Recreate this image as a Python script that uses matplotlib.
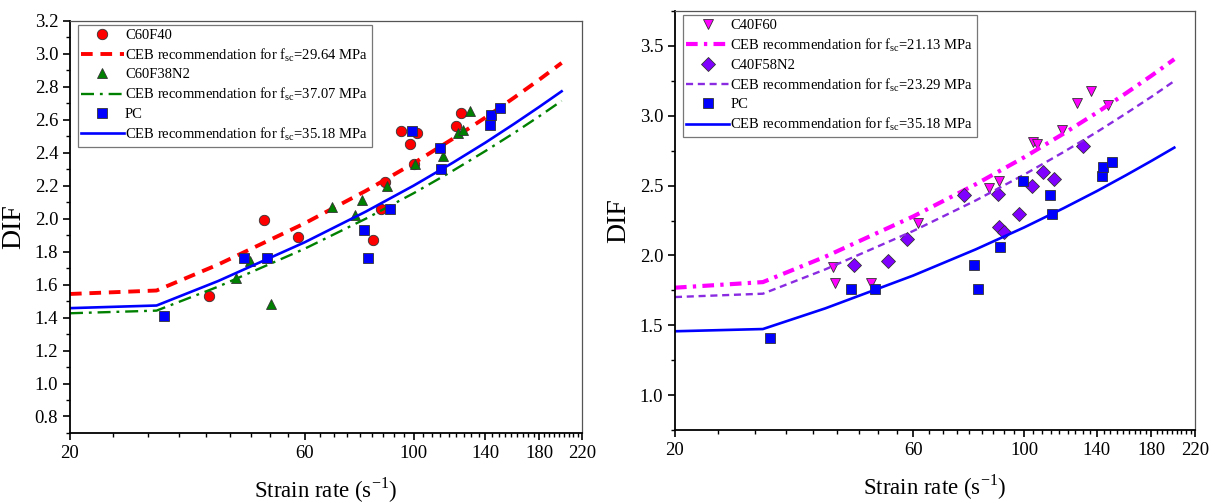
import numpy as np
import matplotlib
matplotlib.use("Agg")
import matplotlib.pyplot as plt
from matplotlib.ticker import FixedLocator, FixedFormatter, MultipleLocator, NullFormatter

plt.rcParams['font.family'] = ['Liberation Serif', 'DejaVu Serif']
plt.rcParams['mathtext.fontset'] = 'custom'
plt.rcParams['mathtext.rm'] = 'Liberation Serif'
plt.rcParams['axes.unicode_minus'] = False

# strain rate points where the CEB curves were read
ceb_rate = [20, 30, 40, 60, 80, 100, 120, 140, 160, 180, 200]

# left panel
c60f40_x = [38.4, 49.6, 58.3, 82.8, 85.8, 87.4, 94.4, 98.5, 100.0, 101.7, 122.2, 124.6]
c60f40_y = [1.53, 1.99, 1.89, 1.87, 2.06, 2.22, 2.53, 2.45, 2.33, 2.52, 2.56, 2.64]
c60f38n2_x = [43.6, 46.4, 51.3, 68.3, 76.1, 78.7, 88.1, 100.8, 114.7, 123.2, 126.2, 130.3]
c60f38n2_y = [1.64, 1.74, 1.48, 2.07, 2.02, 2.11, 2.20, 2.33, 2.38, 2.52, 2.54, 2.65]
ceb_2964 = [1.543, 1.564, 1.721, 1.971, 2.169, 2.336, 2.483, 2.613, 2.733, 2.842, 2.944]
ceb_3707 = [1.426, 1.442, 1.587, 1.817, 2.000, 2.154, 2.289, 2.410, 2.519, 2.620, 2.714]

# PC, shared by both panels
pc_x = [31.0, 45.1, 50.3, 79.4, 80.9, 89.4, 99.4, 112.9, 113.9, 143.0, 143.8, 150.1]
pc_y = [1.41, 1.76, 1.76, 1.93, 1.76, 2.06, 2.53, 2.43, 2.30, 2.57, 2.63, 2.67]
ceb_3518 = [1.457, 1.473, 1.621, 1.856, 2.043, 2.200, 2.338, 2.461, 2.574, 2.677, 2.772]

# right panel
c40f60_x = [41.5, 41.8, 49.5, 61.4, 85.1, 89.3, 104.2, 106.1, 119.0, 127.9, 136.3, 147.1]
c40f60_y = [1.92, 1.80, 1.80, 2.23, 2.48, 2.53, 2.81, 2.80, 2.90, 3.09, 3.18, 3.08]
c40f58n2_x = [45.7, 53.3, 58.3, 75.7, 88.8, 89.3, 91.3, 97.8, 103.8, 109.2, 115.1, 131.4]
c40f58n2_y = [1.93, 1.96, 2.12, 2.43, 2.44, 2.20, 2.17, 2.30, 2.50, 2.60, 2.55, 2.78]
ceb_2113 = [1.769, 1.809, 1.991, 2.279, 2.509, 2.702, 2.872, 3.023, 3.161, 3.287, 3.405]
ceb_2329 = [1.702, 1.726, 1.900, 2.175, 2.393, 2.578, 2.740, 2.884, 3.016, 3.136, 3.249]

x_major = [20, 60, 100, 140, 180, 220]
x_minor = [20 + 40 * k / 9 for k in range(46)]

fig = plt.figure(figsize=(12.17, 5.03), dpi=100)
ax1 = fig.add_axes([0.0575, 0.1392, 0.4207, 0.8196])
ax2 = fig.add_axes([0.5546, 0.1451, 0.4273, 0.8330])

mk = dict(linestyle='none', markersize=7.5, markeredgecolor='#333333', markeredgewidth=0.6)


def sc(s):
    return "CEB recommendation for f$_{\\mathregular{sc}}$=" + s + " MPa"


ax1.plot(c60f40_x, c60f40_y, marker='o', color='#ff0000', label='C60F40', **mk)
ax1.plot(ceb_rate, ceb_2964, color='#ff0000', lw=2.8, dashes=(3, 2), label=sc("29.64"))
ax1.plot(c60f38n2_x, c60f38n2_y, marker='^', color='#008000', label='C60F38N2', **mk)
ax1.plot(ceb_rate, ceb_3707, color='#008000', lw=1.7, dashes=(5.5, 2.5, 1.2, 2.5), label=sc("37.07"))
ax1.plot(pc_x, pc_y, marker='s', color='#0000ff', label='PC', **mk)
ax1.plot(ceb_rate, ceb_3518, color='#0000ff', lw=1.9, label=sc("35.18"))

ax2.plot(c40f60_x, c40f60_y, marker='v', color='#ff00ff', label='C40F60', **mk)
ax2.plot(ceb_rate, ceb_2113, color='#ff00ff', lw=3.0, dashes=(2.8, 1.5, 0.8, 1.5), label=sc("21.13"))
ax2.plot(c40f58n2_x, c40f58n2_y, marker='D', color='#8000ff', label='C40F58N2', **mk)
ax2.plot(ceb_rate, ceb_2329, color='#8a2be2', lw=1.7, dashes=(3, 2), label=sc("23.29"))
ax2.plot(pc_x, pc_y, marker='s', color='#0000ff', label='PC', **mk)
ax2.plot(ceb_rate, ceb_3518, color='#0000ff', lw=1.9, label=sc("35.18"))

for ax, ylim, ymaj, ymin in [(ax1, (0.7, 3.2), 0.2, 0.1), (ax2, (0.75, 3.75), 0.5, 0.25)]:
    ax.set_xscale('log')
    ax.set_xlim(20, 220)
    ax.set_ylim(*ylim)
    ax.xaxis.set_major_locator(FixedLocator(x_major))
    ax.xaxis.set_major_formatter(FixedFormatter([str(v) for v in x_major]))
    ax.xaxis.set_minor_locator(FixedLocator(x_minor))
    ax.xaxis.set_minor_formatter(NullFormatter())
    ax.yaxis.set_major_locator(MultipleLocator(ymaj))
    ax.yaxis.set_minor_locator(MultipleLocator(ymin))
    ax.tick_params(which='major', direction='out', length=5, width=1.2, labelsize=13.5, top=False, right=False)
    ax.tick_params(which='minor', direction='out', length=3, width=1.0, top=False, right=False)
    for s in ['left', 'bottom']:
        ax.spines[s].set_linewidth(1.3)
    for s in ['top', 'right']:
        ax.spines[s].set_linewidth(0.9)
        ax.spines[s].set_color('#555555')
    ax.set_xlabel("Strain rate (s$^{\\mathregular{-1}}$)", fontsize=16.5, labelpad=10)
    ax.set_ylabel("DIF", fontsize=20, labelpad=6)
    leg = ax.legend(loc='upper left', bbox_to_anchor=(0.015, 0.99), fontsize=10.5, frameon=True,
                    fancybox=False, handlelength=2.9, handletextpad=0.1, borderpad=0.25,
                    labelspacing=0.3, borderaxespad=0.0)
    leg.get_frame().set_edgecolor('#555555')
    leg.get_frame().set_linewidth(0.9)

fig.savefig("out.png", dpi=100)
